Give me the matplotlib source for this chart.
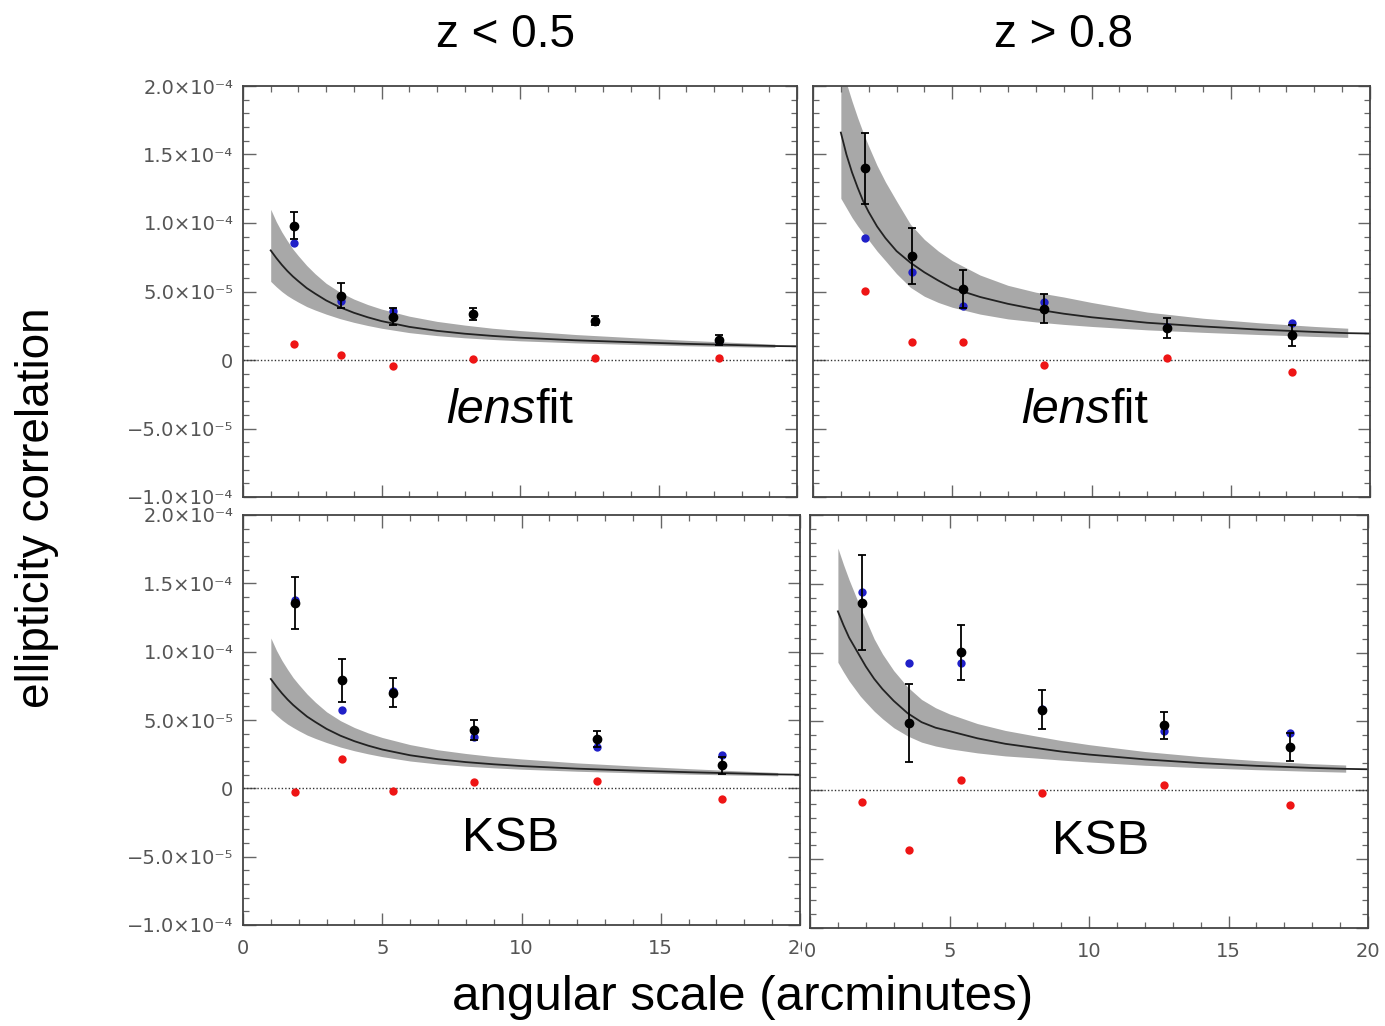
import matplotlib
matplotlib.use("Agg")
import matplotlib.pyplot as plt
import numpy as np
from matplotlib.ticker import MultipleLocator
from matplotlib.transforms import Bbox, TransformedBbox

E5 = 1e-5  # all values below are in units of 1e-5

# angular bins (arcmin), same for all panels
theta = [1.85, 3.55, 5.4, 8.3, 12.7, 17.2]

# lensfit, z < 0.5
lf_lo_black = [9.8, 4.7, 3.17, 3.37, 2.88, 1.46]
lf_lo_err = [1.0, 0.9, 0.6, 0.45, 0.3, 0.4]
lf_lo_blue = [8.56, 4.34, 3.56, 3.37, 2.83, 1.4]
lf_lo_red = [1.2, 0.39, -0.46, 0.07, 0.17, 0.12]

# lensfit, z > 0.8
lf_hi_black = [13.99, 7.61, 5.17, 3.74, 2.34, 1.79]
lf_hi_err = [2.6, 2.05, 1.4, 1.05, 0.75, 0.78]
lf_hi_blue = [8.94, 6.4, 3.94, 4.2, 2.39, 2.68]
lf_hi_red = [5.05, 1.28, 1.28, -0.36, 0.14, -0.87]

# KSB, z < 0.5
ksb_lo_black = [13.59, 7.9, 7.0, 4.27, 3.59, 1.68]
ksb_lo_err = [1.9, 1.55, 1.08, 0.75, 0.6, 0.6]
ksb_lo_blue = [13.78, 5.71, 7.12, 3.76, 3.05, 2.44]
ksb_lo_red = [-0.27, 2.15, -0.22, 0.44, 0.56, -0.76]

# KSB, z > 0.8
ksb_hi_black = [13.63, 4.89, 10.02, 5.86, 4.72, 3.15]
ksb_hi_err = [3.45, 2.8, 1.97, 1.43, 1.0, 1.0]
ksb_hi_blue = [14.43, 9.25, 9.25, 5.88, 4.31, 4.16]
ksb_hi_red = [-0.87, -4.36, 0.77, -0.17, 0.41, -1.09]

# model prediction (last x: line only, the band stops at 19.2)
model_x = [1.0, 1.2, 1.4, 1.6, 1.8, 2.0, 2.3, 2.6, 3.0, 3.5, 4.0, 4.5, 5.0,
           6.0, 7.0, 8.0, 9.0, 10, 12, 14, 16, 18, 19.2, 20]

# z < 0.5 (both shape methods)
model_lo = [8.0, 7.45, 6.95, 6.5, 6.1, 5.75, 5.25, 4.85, 4.35, 3.85, 3.45, 3.12, 2.84,
            2.42, 2.13, 1.92, 1.76, 1.63, 1.44, 1.30, 1.18, 1.08, 1.02, 1.0]
band_lo_max = [11.0, 10.1, 9.35, 8.7, 8.1, 7.6, 6.9, 6.3, 5.6, 4.95, 4.45, 4.05, 3.72,
               3.2, 2.82, 2.55, 2.32, 2.15, 1.86, 1.64, 1.44, 1.26, 1.16]
band_lo_min = [5.74, 5.35, 5.0, 4.7, 4.45, 4.22, 3.9, 3.65, 3.35, 3.02, 2.75, 2.52, 2.32,
               2.0, 1.78, 1.62, 1.5, 1.4, 1.25, 1.14, 1.04, 0.96, 0.92]

# z > 0.8, lensfit
model_hi_lf = [16.6, 15.0, 13.7, 12.6, 11.6, 10.8, 9.75, 8.9, 7.95, 7.1, 6.4, 5.8, 5.25,
               4.6, 4.1, 3.7, 3.38, 3.12, 2.72, 2.45, 2.22, 2.05, 1.96, 1.93]
band_hi_lf_max = [21.8, 20.2, 18.9, 17.7, 16.6, 15.6, 14.2, 13.0, 11.6, 9.9, 8.8, 7.95, 7.25,
                  6.2, 5.45, 4.95, 4.6, 4.2, 3.5, 3.05, 2.72, 2.45, 2.32]
band_hi_lf_min = [11.8, 11.1, 10.4, 9.8, 9.25, 8.75, 7.95, 7.25, 6.3, 5.3, 4.65, 4.2, 3.85,
                  3.35, 3.0, 2.78, 2.6, 2.45, 2.2, 2.02, 1.86, 1.72, 1.65]

# z > 0.8, KSB
model_hi_ksb = [13.0, 12.0, 11.1, 10.4, 9.7, 9.0, 8.1, 7.35, 6.5, 5.6, 4.95, 4.55, 4.3,
                3.78, 3.38, 3.1, 2.82, 2.6, 2.25, 1.98, 1.78, 1.63, 1.56, 1.53]
band_hi_ksb_max = [17.6, 16.4, 15.3, 14.3, 13.3, 12.4, 11.0, 9.9, 8.7, 7.5, 6.6, 6.0, 5.55,
                   4.85, 4.35, 3.98, 3.62, 3.32, 2.82, 2.45, 2.16, 1.93, 1.84]
band_hi_ksb_min = [9.3, 8.6, 7.95, 7.4, 6.85, 6.4, 5.75, 5.2, 4.55, 3.95, 3.5, 3.22, 3.02,
                   2.72, 2.5, 2.36, 2.2, 2.06, 1.82, 1.64, 1.5, 1.38, 1.32]

ytick_vals = [-10, -5, 0, 5, 10, 15, 20]
ytick_text = ["\u22121.0\u00d710\u207b\u2074", "\u22125.0\u00d710\u207b\u2075", "0",
              "5.0\u00d710\u207b\u2075", "1.0\u00d710\u207b\u2074", "1.5\u00d710\u207b\u2074",
              "2.0\u00d710\u207b\u2074"]
xtick_vals = [0, 5, 10, 15, 20]

W, H = 1385, 1026
fig = plt.figure(figsize=(W / 100, H / 100), dpi=100)

def px_axes(l, r, t, b):
    return fig.add_axes([l / W, 1 - b / H, (r - l) / W, (b - t) / H])

ax_tl = px_axes(243, 797, 86, 497)
ax_tr = px_axes(813, 1370, 86, 497)
ax_bl = px_axes(243, 800, 515, 925)
ax_br = px_axes(810, 1368, 515, 928)

big = "Liberation Sans"
tick_color = "#555555"

panels = [
    (ax_tl, lf_lo_black, lf_lo_err, lf_lo_blue, lf_lo_red, model_lo, band_lo_min, band_lo_max, "lensfit", 0.527),
    (ax_tr, lf_hi_black, lf_hi_err, lf_hi_blue, lf_hi_red, model_hi_lf, band_hi_lf_min, band_hi_lf_max, "lensfit", 0.533),
    (ax_bl, ksb_lo_black, ksb_lo_err, ksb_lo_blue, ksb_lo_red, model_lo, band_lo_min, band_lo_max, "KSB", 0.48),
    (ax_br, ksb_hi_black, ksb_hi_err, ksb_hi_blue, ksb_hi_red, model_hi_ksb, band_hi_ksb_min, band_hi_ksb_max, "KSB", 0.52),
]

for i, (ax, blk, err, blu, red, mod, bmin, bmax, name, xt) in enumerate(panels):
    mx = np.array(model_x)
    ax.fill_between(mx[:-1], np.array(bmin) * E5, np.array(bmax) * E5,
                    color="#a8a8a8", lw=0, zorder=1)
    ax.plot(mx, np.array(mod) * E5, color="#222222", lw=1.3, zorder=2)
    ax.axhline(0, color="#333333", lw=1.0, ls=(0, (1, 1.5)), zorder=2)

    ax.plot(theta, np.array(blu) * E5, "o", color="#2020c8", ms=6, mec="none", zorder=3)
    ax.errorbar(theta, np.array(blk) * E5, yerr=np.array(err) * E5, fmt="o",
                color="black", ms=6, elinewidth=1.3, capsize=3, capthick=1.3, zorder=4)
    ax.plot(theta, np.array(red) * E5, "o", color="#ee1515", ms=6, mec="none", zorder=5)

    ax.set_xlim(0, 20)
    ax.set_ylim(-1e-4, 2e-4)
    ax.set_xticks(xtick_vals)
    ax.xaxis.set_minor_locator(MultipleLocator(1))
    ax.set_yticks([v * E5 for v in ytick_vals])
    ax.yaxis.set_minor_locator(MultipleLocator(1e-5))
    ax.tick_params(which="both", direction="in", top=True, right=True, colors="#666666",
                   labelcolor=tick_color, labelsize=14)
    ax.tick_params(which="major", length=9, width=1.0)
    ax.tick_params(which="minor", length=4.5, width=0.9)
    ax.tick_params(axis="y", pad=7)
    ax.tick_params(axis="x", pad=10)
    for sp in ax.spines.values():
        sp.set_color("#444444")
        sp.set_linewidth(1.3)

    if i % 2 == 0:
        ax.set_yticklabels(ytick_text)
    else:
        ax.set_yticklabels([])
    if i >= 2:
        ax.set_xticklabels([str(v) for v in xtick_vals])
    else:
        ax.set_xticklabels([])

    if name == "lensfit":
        ax.text(xt, 0.21, "lens", transform=ax.transAxes, ha="right", va="center",
                fontsize=35, style="italic", family=big)
        ax.text(xt, 0.21, "fit", transform=ax.transAxes, ha="left", va="center",
                fontsize=35, family=big)
    else:
        ax.text(xt, 0.21, name, transform=ax.transAxes, ha="center", va="center",
                fontsize=35, family=big)

# the left "20" is cut by the right panel in the original
lab20 = ax_bl.get_xticklabels()[-1]
lab20.set_clip_box(TransformedBbox(Bbox([[0, 0], [802 / W, 1]]), fig.transFigure))
lab20.set_clip_on(True)

fig.text(505 / W, 1 - 35 / H, "z < 0.5", ha="center", va="center", fontsize=33, family=big)
fig.text(1063 / W, 1 - 35 / H, "z > 0.8", ha="center", va="center", fontsize=33, family=big)
fig.text(743 / W, 1 - 998 / H, "angular scale (arcminutes)", ha="center", va="center",
         fontsize=35.5, family=big)
fig.text(37 / W, 1 - 508 / H, "ellipticity correlation", ha="center", va="center",
         rotation=90, fontsize=33, family=big)

fig.savefig("out.png", dpi=100)
